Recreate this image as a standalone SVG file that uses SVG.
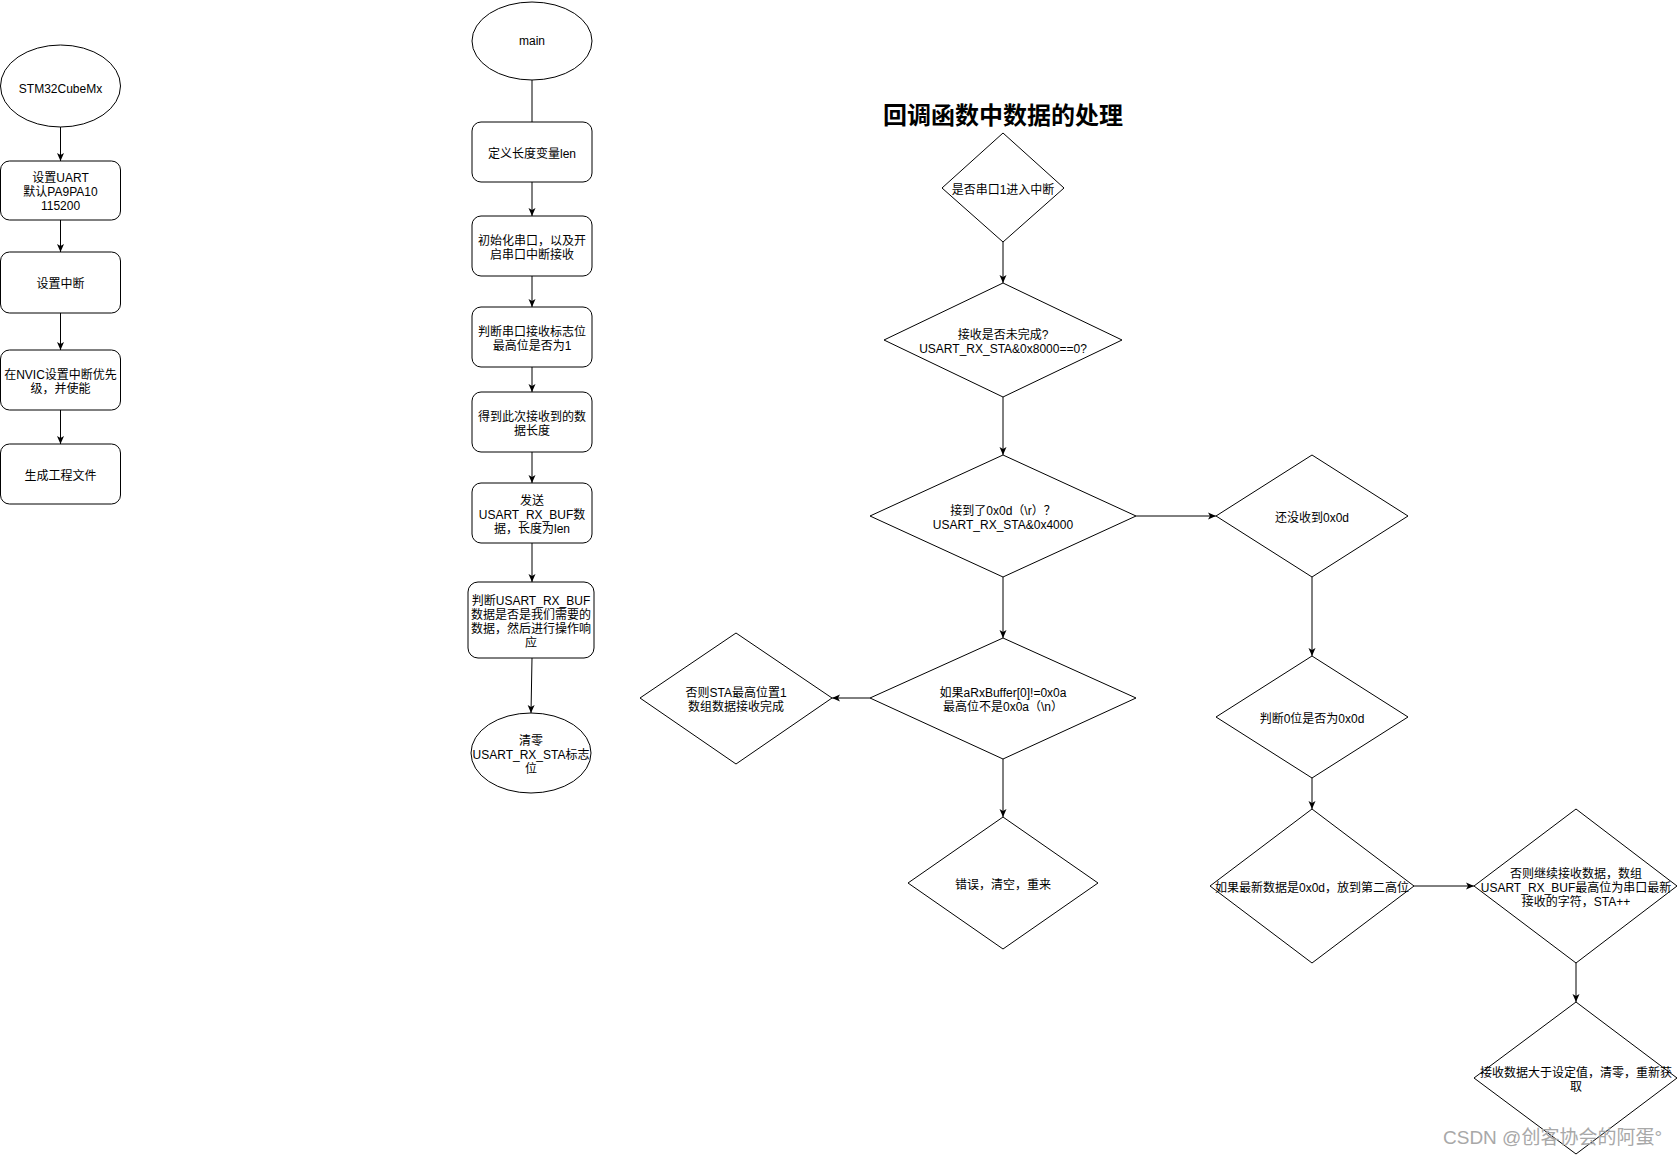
<svg xmlns="http://www.w3.org/2000/svg" width="1678" height="1156" viewBox="0 0 1678 1156">
<defs>
<style>
.n{fill:#fff;stroke:#000;stroke-width:1}
.t{font-family:"Liberation Sans","Noto Sans CJK SC",sans-serif;font-size:12px;fill:#000;text-anchor:middle}
.c{fill:none;stroke:#000;stroke-width:1}
.ttl{font-family:"Liberation Sans","Noto Sans CJK SC",sans-serif;font-size:24px;font-weight:bold;fill:#000;text-anchor:middle}
.wm{font-family:"Liberation Sans","Noto Sans CJK SC",sans-serif;font-size:19px;fill:#a8a8a8}
</style>
<marker id="arr" markerWidth="10" markerHeight="10" refX="9" refY="5" orient="auto" markerUnits="userSpaceOnUse">
<path d="M1,1.5 L9,5 L1,8.5 L3,5 Z" fill="#000"/>
</marker>
</defs>
<rect width="1678" height="1156" fill="#fff"/>

<g id="connectors">
<line class="c" x1="60.5" y1="127" x2="60.5" y2="161" marker-end="url(#arr)"/>
<line class="c" x1="60.5" y1="220" x2="60.5" y2="252" marker-end="url(#arr)"/>
<line class="c" x1="60.5" y1="313" x2="60.5" y2="350" marker-end="url(#arr)"/>
<line class="c" x1="60.5" y1="410" x2="60.5" y2="444" marker-end="url(#arr)"/>
<line class="c" x1="532" y1="80" x2="532" y2="122"/>
<line class="c" x1="532" y1="182" x2="532" y2="216" marker-end="url(#arr)"/>
<line class="c" x1="532" y1="276" x2="532" y2="307" marker-end="url(#arr)"/>
<line class="c" x1="532" y1="367" x2="532" y2="392" marker-end="url(#arr)"/>
<line class="c" x1="532" y1="452" x2="532" y2="483" marker-end="url(#arr)"/>
<line class="c" x1="532" y1="543" x2="532" y2="582" marker-end="url(#arr)"/>
<line class="c" x1="532" y1="658" x2="531" y2="713" marker-end="url(#arr)"/>
<line class="c" x1="1003" y1="242" x2="1003" y2="283" marker-end="url(#arr)"/>
<line class="c" x1="1003" y1="397" x2="1003" y2="455" marker-end="url(#arr)"/>
<line class="c" x1="1003" y1="577" x2="1003" y2="638" marker-end="url(#arr)"/>
<line class="c" x1="1003" y1="759" x2="1003" y2="817" marker-end="url(#arr)"/>
<line class="c" x1="870" y1="698" x2="832" y2="698" marker-end="url(#arr)"/>
<line class="c" x1="1136" y1="516" x2="1216" y2="516" marker-end="url(#arr)"/>
<line class="c" x1="1312" y1="577" x2="1312" y2="656" marker-end="url(#arr)"/>
<line class="c" x1="1312" y1="778" x2="1312" y2="809" marker-end="url(#arr)"/>
<line class="c" x1="1414" y1="886" x2="1474" y2="886" marker-end="url(#arr)"/>
<line class="c" x1="1576" y1="963" x2="1576" y2="1002" marker-end="url(#arr)"/>
</g>

<g id="cube">
<ellipse class="n" cx="60.5" cy="86" rx="60" ry="41"/>
<text class="t" x="60.5" y="93">STM32CubeMx</text>
</g>
<g id="uart">
<rect class="n" x="0.5" y="161" width="120" height="59" rx="9"/>
<text class="t" x="60.5" y="182">设置UART</text>
<text class="t" x="60.5" y="196">默认PA9PA10</text>
<text class="t" x="60.5" y="210">115200</text>
</g>
<g id="irq">
<rect class="n" x="0.5" y="252" width="120" height="61" rx="9"/>
<text class="t" x="60.5" y="288">设置中断</text>
</g>
<g id="nvic">
<rect class="n" x="0.5" y="350" width="120" height="60" rx="9"/>
<text class="t" x="60.5" y="379">在NVIC设置中断优先</text>
<text class="t" x="60.5" y="393">级，并使能</text>
</g>
<g id="gen">
<rect class="n" x="0.5" y="444" width="120" height="60" rx="9"/>
<text class="t" x="60.5" y="480">生成工程文件</text>
</g>

<g id="main">
<ellipse class="n" cx="532" cy="41" rx="60" ry="39"/>
<text class="t" x="532" y="45">main</text>
</g>
<g id="deflen">
<rect class="n" x="472" y="122" width="120" height="60" rx="9"/>
<text class="t" x="532" y="158">定义长度变量len</text>
</g>
<g id="init">
<rect class="n" x="472" y="216" width="120" height="60" rx="9"/>
<text class="t" x="532" y="245">初始化串口，以及开</text>
<text class="t" x="532" y="259">启串口中断接收</text>
</g>
<g id="judge">
<rect class="n" x="472" y="307" width="120" height="60" rx="9"/>
<text class="t" x="532" y="336">判断串口接收标志位</text>
<text class="t" x="532" y="350">最高位是否为1</text>
</g>
<g id="getlen">
<rect class="n" x="472" y="392" width="120" height="60" rx="9"/>
<text class="t" x="532" y="421">得到此次接收到的数</text>
<text class="t" x="532" y="435">据长度</text>
</g>
<g id="send">
<rect class="n" x="472" y="483" width="120" height="60" rx="9"/>
<text class="t" x="532" y="505">发送</text>
<text class="t" x="532" y="519">USART_RX_BUF数</text>
<text class="t" x="532" y="533">据，长度为len</text>
</g>
<g id="check">
<rect class="n" x="468" y="582" width="126" height="76" rx="10"/>
<text class="t" x="531" y="605">判断USART_RX_BUF</text>
<text class="t" x="531" y="619">数据是否是我们需要的</text>
<text class="t" x="531" y="633">数据，然后进行操作响</text>
<text class="t" x="531" y="647">应</text>
</g>
<g id="clear">
<ellipse class="n" cx="531" cy="753" rx="60" ry="40"/>
<text class="t" x="531" y="745">清零</text>
<text class="t" x="531" y="759">USART_RX_STA标志</text>
<text class="t" x="531" y="773">位</text>
</g>

<g id="title">
<text class="ttl" x="1003" y="124">回调函数中数据的处理</text>
</g>

<g id="d1">
<polygon class="n" points="1003,133 1064,188 1003,242 942,188"/>
<text class="t" x="1003" y="194">是否串口1进入中断</text>
</g>
<g id="d2">
<polygon class="n" points="1003,283 1122,340 1003,397 884,340"/>
<text class="t" x="1003" y="339">接收是否未完成?</text>
<text class="t" x="1003" y="353">USART_RX_STA&amp;0x8000==0?</text>
</g>
<g id="d3">
<polygon class="n" points="1003,455 1136,516 1003,577 870,516"/>
<text class="t" x="1003" y="515">接到了0x0d（\r）？</text>
<text class="t" x="1003" y="529">USART_RX_STA&amp;0x4000</text>
</g>
<g id="d4">
<polygon class="n" points="1312,455 1408,516 1312,577 1216,516"/>
<text class="t" x="1312" y="522">还没收到0x0d</text>
</g>
<g id="d5">
<polygon class="n" points="1312,656 1408,717 1312,778 1216,717"/>
<text class="t" x="1312" y="723">判断0位是否为0x0d</text>
</g>
<g id="d6">
<polygon class="n" points="1003,638 1136,698 1003,759 870,698"/>
<text class="t" x="1003" y="697">如果aRxBuffer[0]!=0x0a</text>
<text class="t" x="1003" y="711">最高位不是0x0a（\n）</text>
</g>
<g id="d7">
<polygon class="n" points="736,633 832,698 736,764 640,698"/>
<text class="t" x="736" y="697">否则STA最高位置1</text>
<text class="t" x="736" y="711">数组数据接收完成</text>
</g>
<g id="d8">
<polygon class="n" points="1003,817 1098,883 1003,949 908,883"/>
<text class="t" x="1003" y="889">错误，清空，重来</text>
</g>
<g id="d9">
<polygon class="n" points="1312,809 1414,886 1312,963 1210,886"/>
<text class="t" x="1312" y="892">如果最新数据是0x0d，放到第二高位</text>
</g>
<g id="d10">
<polygon class="n" points="1576,809 1677,886 1576,963 1474,886"/>
<text class="t" x="1576" y="878">否则继续接收数据，数组</text>
<text class="t" x="1576" y="892">USART_RX_BUF最高位为串口最新</text>
<text class="t" x="1576" y="906">接收的字符，STA++</text>
</g>
<g id="d11">
<polygon class="n" points="1576,1002 1677,1078 1576,1154 1474,1078"/>
<text class="t" x="1576" y="1077">接收数据大于设定值，清零，重新获</text>
<text class="t" x="1576" y="1091">取</text>
</g>

<text class="wm" x="1443" y="1144">CSDN @创客协会的阿蛋°</text>
</svg>
